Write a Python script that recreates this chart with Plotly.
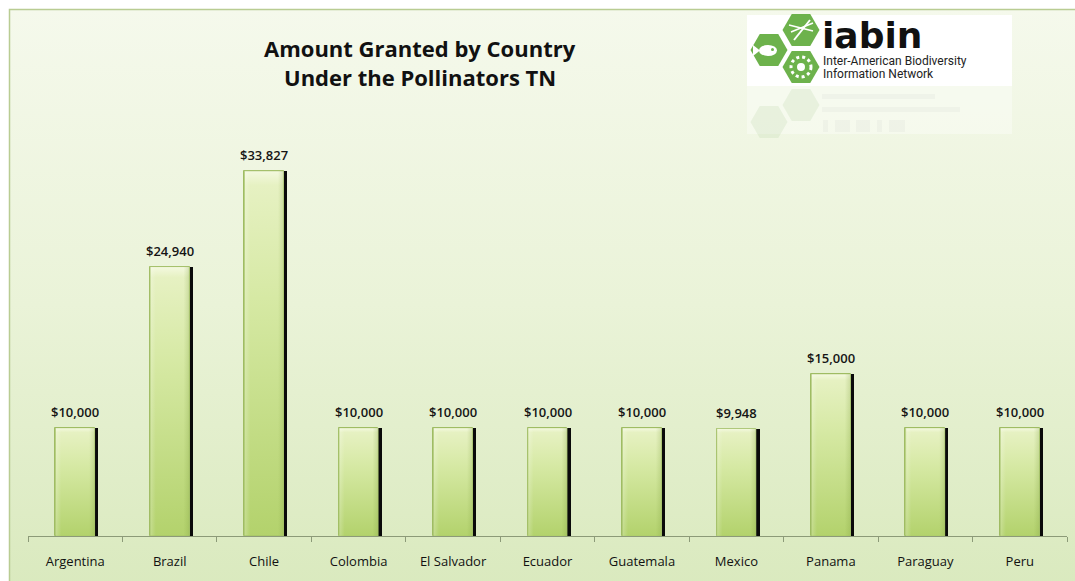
import base64
import plotly.graph_objects as go

# Amount granted per country under the Pollinators Thematic Network
countries = ["Argentina", "Brazil", "Chile", "Colombia", "El Salvador", "Ecuador",
             "Guatemala", "Mexico", "Panama", "Paraguay", "Peru"]
amounts = [10000, 24940, 33827, 10000, 10000, 10000, 10000, 9948, 15000, 10000, 10000]
value_labels = ["$10,000", "$24,940", "$33,827", "$10,000", "$10,000", "$10,000",
                "$10,000", "$9,948", "$15,000", "$10,000", "$10,000"]

title_lines = ["Amount Granted by Country", "Under the Pollinators TN"]

# figure geometry (pixels)
W, H = 1075, 581
ML, MR, MT, MB = 28, 8, 100, 45
PW, PH = W - ML - MR, H - MT - MB
BAR_W = 0.42
Y_MAX = 40370


def px(x):
    return (x - ML) / PW


def py(y):
    return (H - MB - y) / PH


def svg_uri(svg):
    return "data:image/svg+xml;base64," + base64.b64encode(svg.encode()).decode()


background_svg = svg_uri(
    '<svg xmlns="http://www.w3.org/2000/svg" width="100" height="100" preserveAspectRatio="none">'
    '<defs><linearGradient id="g" x1="0" y1="0" x2="0" y2="1">'
    '<stop offset="0" stop-color="#f5f9ec"/><stop offset="0.5" stop-color="#eaf3d8"/>'
    '<stop offset="1" stop-color="#d9e9bd"/></linearGradient></defs>'
    '<rect width="100" height="100" fill="url(#g)"/></svg>'
)

bar_svg = svg_uri(
    '<svg xmlns="http://www.w3.org/2000/svg" width="40" height="400" viewBox="0 0 40 400" preserveAspectRatio="none">'
    '<defs><linearGradient id="v" x1="0" y1="0" x2="0" y2="1">'
    '<stop offset="0" stop-color="#f4f9e0"/><stop offset="0.04" stop-color="#e6f1c2"/>'
    '<stop offset="0.35" stop-color="#d6e9a4"/>'
    '<stop offset="1" stop-color="#b3d26c"/></linearGradient>'
    '<linearGradient id="h" x1="0" y1="0" x2="1" y2="0">'
    '<stop offset="0" stop-color="#ffffff" stop-opacity="0.25"/>'
    '<stop offset="0.15" stop-color="#ffffff" stop-opacity="0"/>'
    '<stop offset="0.85" stop-color="#7a9a3a" stop-opacity="0"/>'
    '<stop offset="1" stop-color="#7a9a3a" stop-opacity="0.25"/></linearGradient></defs>'
    '<rect width="40" height="400" fill="url(#v)"/>'
    '<rect width="40" height="400" fill="url(#h)"/>'
    '<rect x="0" y="0" width="40" height="400" fill="none" stroke="#a3bf68" stroke-width="1.2"/>'
    '</svg>'
)

fig = go.Figure()

# drop shadow on the right of each bar
fig.add_trace(go.Bar(
    x=list(range(len(countries))), y=amounts,
    width=BAR_W, offset=-BAR_W / 2 + 0.035,
    marker=dict(color="#0a0a0a", line=dict(width=0)),
    hoverinfo="skip", showlegend=False,
))
# the bars themselves
fig.add_trace(go.Bar(
    x=list(range(len(countries))), y=amounts,
    width=BAR_W, offset=-BAR_W / 2,
    marker=dict(color="#cde29a", line=dict(color="#9fbc63", width=1)),
    showlegend=False,
))

images = [dict(source=background_svg, xref="paper", yref="paper",
               x=px(9), y=py(9), sizex=px(1100) - px(9), sizey=py(9) - py(600),
               xanchor="left", yanchor="top", sizing="stretch", layer="below")]

# gradient fill laid over each bar, sized from its value
for i, v in enumerate(amounts):
    images.append(dict(source=bar_svg, xref="x", yref="y", x=i, y=v,
                       sizex=BAR_W, sizey=v, xanchor="center", yanchor="top",
                       sizing="stretch", layer="above"))

annotations = []
for i, (v, lab) in enumerate(zip(amounts, value_labels)):
    annotations.append(dict(x=i, y=v, text=lab, showarrow=False, xref="x", yref="y",
                            yanchor="bottom", yshift=5,
                            font=dict(family="Open Sans", size=13, color="#151515", weight=600)))


def paper_text(x, y, text, size, family, color="#111111", weight="normal", xanchor="center"):
    return dict(x=px(x), y=py(y), xref="paper", yref="paper", text=text, showarrow=False,
                xanchor=xanchor, yanchor="middle",
                font=dict(family=family, size=size, color=color, weight=weight))


annotations.append(paper_text(420, 48, title_lines[0], 22, "Open Sans", weight="bold"))
annotations.append(paper_text(420, 77, title_lines[1], 22, "Open Sans", weight="bold"))

# logo text
annotations.append(paper_text(820, 35, "iabin", 36, "DejaVu Sans", weight="bold", xanchor="left"))
annotations.append(paper_text(821, 61, "Inter-American Biodiversity", 12,
                              "Liberation Sans Narrow, Roboto", color="#222222", xanchor="left"))
annotations.append(paper_text(821, 74, "Information Network", 12,
                              "Liberation Sans Narrow, Roboto", color="#222222", xanchor="left"))


def hexagon(cx, cy, r):
    pts = [(cx + r, cy), (cx + r / 2, cy - r * 0.866), (cx - r / 2, cy - r * 0.866),
           (cx - r, cy), (cx - r / 2, cy + r * 0.866), (cx + r / 2, cy + r * 0.866)]
    return "M " + " L ".join(f"{px(a):.5f},{py(b):.5f}" for a, b in pts) + " Z"


shapes = [
    # outer frame
    dict(type="rect", xref="paper", yref="paper", x0=px(9.5), y0=py(9.5), x1=px(1100), y1=py(600),
         line=dict(color="#b9cc92", width=1.5), fillcolor="rgba(0,0,0,0)", layer="below"),
    # logo panel
    dict(type="rect", xref="paper", yref="paper", x0=px(747), y0=py(15), x1=px(1012), y1=py(86),
         line=dict(width=0), fillcolor="white", layer="above"),
    dict(type="rect", xref="paper", yref="paper", x0=px(747), y0=py(86), x1=px(1012), y1=py(134),
         line=dict(width=0), fillcolor="rgba(255,255,255,0.35)", layer="above"),
]
hex_specs = [(801, 30, 18.5), (769, 50, 18.5), (801, 67, 18.5)]
for cx, cy, r in hex_specs:
    shapes.append(dict(type="path", xref="paper", yref="paper", path=hexagon(cx, cy, r),
                       fillcolor="#6db24c", line=dict(width=0), layer="above"))
# reflected, faded hexagons
for cx, cy, r in [(769, 122, 18.5), (801, 105, 18.5)]:
    shapes.append(dict(type="path", xref="paper", yref="paper", path=hexagon(cx, cy, r),
                       fillcolor="rgba(120,170,90,0.11)", line=dict(width=0), layer="above"))
# icons in the hexagons
shapes += [
    dict(type="circle", xref="paper", yref="paper", x0=px(759), y0=py(45), x1=px(777), y1=py(56),
         fillcolor="white", line=dict(width=0), layer="above"),
    dict(type="path", xref="paper", yref="paper",
         path=f"M {px(760):.5f},{py(50.5):.5f} L {px(753):.5f},{py(45):.5f} L {px(753):.5f},{py(56):.5f} Z",
         fillcolor="white", line=dict(width=0), layer="above"),
    dict(type="circle", xref="paper", yref="paper", x0=px(771), y0=py(48), x1=px(774), y1=py(51),
         fillcolor="#6db24c", line=dict(width=0), layer="above"),
    dict(type="circle", xref="paper", yref="paper", x0=px(791), y0=py(57), x1=px(811), y1=py(77),
         fillcolor="rgba(0,0,0,0)", line=dict(color="white", width=3, dash="dot"), layer="above"),
    dict(type="circle", xref="paper", yref="paper", x0=px(797), y0=py(63), x1=px(805), y1=py(71),
         fillcolor="white", line=dict(width=0), layer="above"),
    dict(type="line", xref="paper", yref="paper", x0=px(794), y0=py(40), x1=px(810), y1=py(20),
         line=dict(color="white", width=2), layer="above"),
    dict(type="line", xref="paper", yref="paper", x0=px(789), y0=py(25), x1=px(813), y1=py(31),
         line=dict(color="white", width=1.5), layer="above"),
    dict(type="line", xref="paper", yref="paper", x0=px(791), y0=py(32), x1=px(813), y1=py(23),
         line=dict(color="white", width=1.5), layer="above"),
]
# faint mirrored text lines below the logo
for y0, x1 in [(94, 935), (107, 960)]:
    shapes.append(dict(type="rect", xref="paper", yref="paper", x0=px(822), y0=py(y0), x1=px(x1),
                       y1=py(y0 + 5), fillcolor="rgba(150,150,150,0.07)", line=dict(width=0), layer="above"))
for xs in [(823, 828), (835, 850), (856, 870), (877, 882), (889, 905)]:
    shapes.append(dict(type="rect", xref="paper", yref="paper", x0=px(xs[0]), y0=py(120), x1=px(xs[1]),
                       y1=py(132), fillcolor="rgba(150,150,150,0.07)", line=dict(width=0), layer="above"))

fig.update_layout(
    width=W, height=H,
    margin=dict(l=ML, r=MR, t=MT, b=MB),
    paper_bgcolor="white", plot_bgcolor="rgba(0,0,0,0)",
    barmode="overlay", bargap=0,
    images=images, annotations=annotations, shapes=shapes,
    xaxis=dict(
        type="category", range=[-0.5, len(countries) - 0.5],
        tickmode="array", tickvals=list(range(len(countries))), ticktext=countries,
        tickson="boundaries", ticks="outside", ticklen=5, tickcolor="#8c9a78",
        showline=True, linecolor="#8c9a78", linewidth=1, showgrid=False, zeroline=False,
        ticklabelstandoff=13,
        tickfont=dict(family="Open Sans", size=13, color="#111111", weight=500),
    ),
    yaxis=dict(range=[0, Y_MAX], visible=False, showgrid=False, zeroline=False),
    showlegend=False,
)

fig.write_html("out.html")
